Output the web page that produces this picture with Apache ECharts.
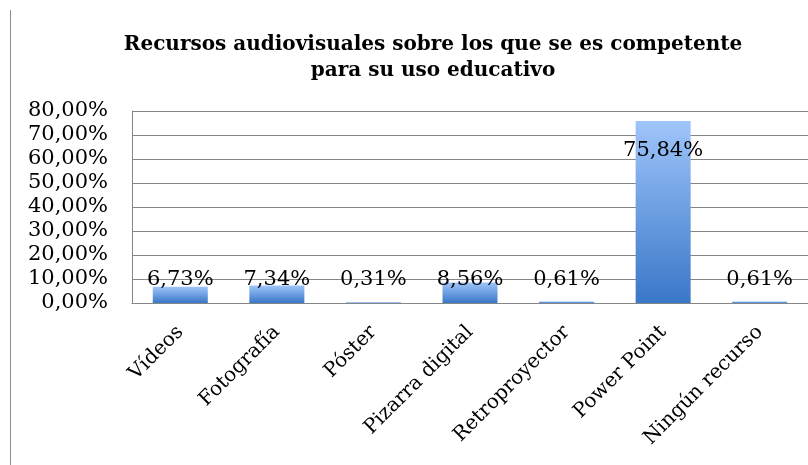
<!DOCTYPE html>
<html><head><meta charset="utf-8">
<script src="https://cdn.jsdelivr.net/npm/echarts@6/dist/echarts.min.js"></script>
<style>html,body{margin:0;padding:0;background:#fff}#c{width:808px;height:465px}</style>
</head><body><div id="c"></div>
<script>
const categories = ['Vídeos','Fotografía','Póster','Pizarra digital','Retroproyector','Power Point','Ningún recurso'];
const values = [6.73, 7.34, 0.31, 8.56, 0.61, 75.84, 0.61];
const yMin = 0, yMax = 80, yStep = 10;
const titleText = 'Recursos audiovisuales sobre los que se es competente\npara su uso educativo';

const fmt = v => v.toFixed(2).replace('.', ',') + '%';
const serif = 'DejaVu Serif';
const chart = echarts.init(document.getElementById('c'), null, {renderer:'canvas'});
const data = values.map((v, i) => {
  const item = {value: v};
  if (v > 50) item.label = {position: 'insideTop', distance: 19};
  return item;
});
chart.setOption({
  animation: false,
  title: {
    text: titleText, left: 428, top: 27, textAlign: 'center',
    textStyle: {fontFamily: serif, fontWeight: 'bold', fontSize: 20, color: '#000', lineHeight: 26}
  },
  graphic: [{type:'line', shape:{x1:10.5,y1:10,x2:10.5,y2:465}, style:{stroke:'#8c8c8c', lineWidth:1}}],
  grid: {left: 132, right: -8, top: 111, bottom: 162},
  xAxis: {
    type: 'category', data: categories,
    axisLine: {lineStyle: {color: '#868686'}}, axisTick: {show: false},
    axisLabel: {rotate: 45, interval: 0, margin: 26, fontFamily: serif, fontSize: 20, color: '#000'}
  },
  yAxis: {
    type: 'value', min: yMin, max: yMax, interval: yStep,
    axisLine: {show: true, lineStyle: {color: '#868686'}}, axisTick: {show: false},
    splitLine: {lineStyle: {color: '#868686'}},
    axisLabel: {margin: 24, fontFamily: serif, fontSize: 21, color: '#000', formatter: v => fmt(v)}
  },
  series: [{
    type: 'bar', data: data, barWidth: 55,
    itemStyle: {color: new echarts.graphic.LinearGradient(0,0,0,1,[{offset:0,color:'#9fc5fa'},{offset:1,color:'#3a77c8'}])},
    label: {show: true, position: 'insideBottom', distance: 13, fontFamily: serif, fontSize: 21, color: '#000', formatter: p => fmt(p.value)}
  }]
});
</script></body></html>
